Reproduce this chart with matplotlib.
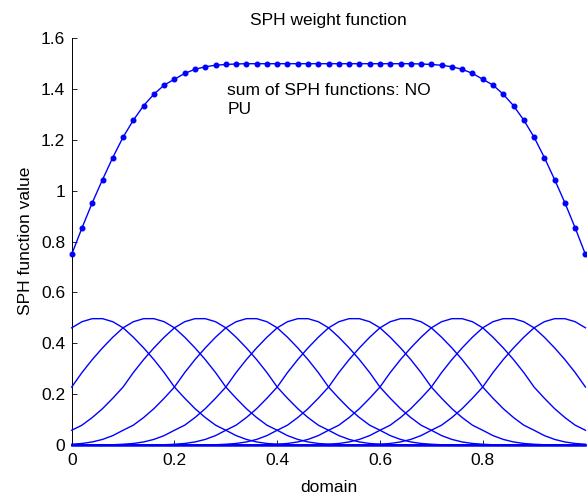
import numpy as np
import matplotlib.pyplot as plt

plt.rcParams['font.family'] = ['Liberation Sans', 'DejaVu Sans']

# sample grid of the domain
x = np.linspace(0, 1, 51)

# particle centres
centres = [0.05, 0.15, 0.25, 0.35, 0.45, 0.55, 0.65, 0.75, 0.85, 0.95]

# kernel value at distance 0.01, 0.03, ..., 0.39 from a centre
profile = [0.497, 0.485, 0.461, 0.424, 0.382, 0.336, 0.285, 0.228, 0.184, 0.143,
           0.108, 0.078, 0.058, 0.037, 0.022, 0.012, 0.006, 0.003, 0.001, 0.0]

xticks = [0, 0.2, 0.4, 0.6, 0.8]
yticks = [0, 0.2, 0.4, 0.6, 0.8, 1, 1.2, 1.4, 1.6]

# weight of each particle on the grid
W = np.zeros((len(centres), len(x)))
prof = np.array(profile)
for i, c in enumerate(centres):
    k = np.round((np.abs(x - c) - 0.01) / 0.02).astype(int)
    ok = k < len(prof)
    W[i, ok] = prof[k[ok]]
total = W.sum(axis=0)

fig = plt.figure(figsize=(5.87, 4.96), dpi=100)
ax = fig.add_axes([71.7/587, 51/496, 513.75/587, 406.7/496])

blue = (0, 0, 1)
for w in W:
    ax.plot(x, w, color=blue, lw=1.0, clip_on=False, zorder=3)
ax.plot(x, total, color=blue, lw=1.0, marker='o', ms=3.3, mec=blue, mfc=blue,
        clip_on=False, zorder=3)
# the zero stretches of the curves pile up into a thicker line
ax.plot([0, 1], [0, 0], color=blue, lw=1.8, clip_on=False, zorder=3)

ax.set_xlim(0, 1)
ax.set_ylim(0, 1.6)
ax.set_xticks(xticks)
ax.set_xticklabels(['0', '0.2', '0.4', '0.6', '0.8'])
ax.set_yticks(yticks)
ax.set_yticklabels(['0', '0.2', '0.4', '0.6', '0.8', '1', '1.2', '1.4', '1.6'])
ax.tick_params(direction='in', length=3.6, width=0.6, labelsize=12.5, colors='black')
ax.tick_params(axis='x', pad=6)
ax.tick_params(axis='y', pad=4.8)
for s in ['top', 'right']:
    ax.spines[s].set_visible(False)
for s in ['left', 'bottom']:
    ax.spines[s].set_linewidth(0.7)

ax.set_title('SPH weight function', fontsize=12.5, pad=9.6)
ax.set_xlabel('domain', fontsize=12.5)
ax.set_ylabel('SPH function value', fontsize=12.5)
ax.xaxis.set_label_coords(0.5, -0.086)
ax.yaxis.set_label_coords(-0.0753, 0.5016)

ax.text(0.303, 1.425, 'sum of SPH functions: NO\nPU', fontsize=12.5,
        va='top', ha='left', linespacing=1.37)

fig.savefig('out.png', dpi=100)
